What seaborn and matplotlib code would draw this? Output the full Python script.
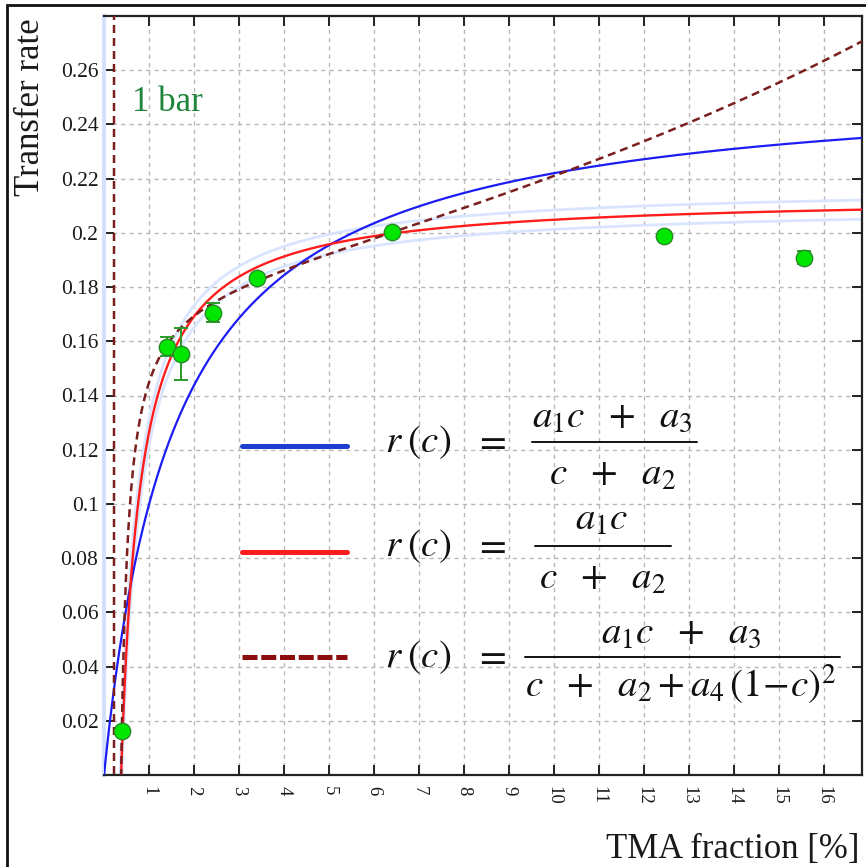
import numpy as np
import pandas as pd
import matplotlib
matplotlib.use("Agg")
import matplotlib.pyplot as plt
import seaborn as sns
from matplotlib.patches import Rectangle
from matplotlib.lines import Line2D

# ---------------- data ----------------
tma_fraction = [0.40, 1.40, 1.71, 2.42, 3.41, 6.41, 12.44, 15.57]
transfer_rate = [0.0162, 0.1580, 0.1554, 0.1705, 0.1834, 0.2004, 0.1989, 0.1908]
rate_error = [0.0, 0.0035, 0.0096, 0.0035, 0.0, 0.0, 0.0, 0.0024]

# fitted parameters of the three model curves
fit_blue = [0.257, 1.576, 0.0]            # a1, a2, a3 : (a1 c + a3)/(c + a2)
fit_red = [0.214, 0.43, 0.38]             # a1, a2, c-offset : a1 c'/(c' + a2)
band_upper = [0.2175, 0.42, 0.36]         # confidence band of the red fit
band_lower = [0.2105, 0.44, 0.40]
fit_dashed = [0.18514, -0.20698, -0.07035, -0.021404]  # a1, a2, a3, a4

x_ticks = list(range(1, 17))
x_tick_labels = [str(v) for v in x_ticks]
y_ticks = [0.02, 0.04, 0.06, 0.08, 0.10, 0.12, 0.14, 0.16, 0.18, 0.20, 0.22, 0.24, 0.26]
y_tick_labels = ["0.02", "0.04", "0.06", "0.08", "0.1", "0.12", "0.14", "0.16",
                 "0.18", "0.2", "0.22", "0.24", "0.26"]

# ---------------- style ----------------
sns.set_theme(style="ticks")
plt.rcParams["font.family"] = ["Liberation Serif", "DejaVu Serif"]
plt.rcParams["mathtext.fontset"] = "stix"

W, H = 866, 867
fig = plt.figure(figsize=(W / 100, H / 100), dpi=100)
fig.patch.set_facecolor("white")
ax = fig.add_axes([104 / W, 1 - 775 / H, 758 / W, 759 / H])
ax.set_facecolor("white")


def fx(px):
    return px / W


def fy(py):
    return 1 - py / H


# ---------------- curves ----------------
c = np.linspace(0.0, 16.9, 6000)
a1, a2, a3 = fit_blue
blue = (a1 * c + a3) / (c + a2)
A, B, c0 = fit_red
red = A * (c - c0) / (c - c0 + B)
A, B, c0 = band_upper
up = A * (c - c0) / (c - c0 + B)
A, B, c0 = band_lower
lo = A * (c - c0) / (c - c0 + B)
d1, d2, d3, d4 = fit_dashed
dashed = (d1 * c + d3) / (c + d2 + d4 * (1 - c) ** 2)

curves = pd.DataFrame({"c": c, "blue": blue, "red": red, "up": up, "lo": lo, "dashed": dashed})

band_col = "#d9e5ff"
sns.lineplot(data=curves, x="c", y="up", ax=ax, color=band_col, lw=2.0, estimator=None, sort=False, zorder=2)
sns.lineplot(data=curves, x="c", y="lo", ax=ax, color=band_col, lw=2.0, estimator=None, sort=False, zorder=2)
sns.lineplot(data=curves, x="c", y="blue", ax=ax, color="#1c1cf5", lw=1.6, estimator=None, sort=False, zorder=3)
sns.lineplot(data=curves, x="c", y="red", ax=ax, color="#ff1c1c", lw=1.7, estimator=None, sort=False, zorder=3)
sns.lineplot(data=curves, x="c", y="dashed", ax=ax, color="#7a1e1e", lw=1.8, estimator=None,
             sort=False, zorder=3)
ax.lines[-1].set_dashes((3.2, 2.0))

# ---------------- data points ----------------
pts = pd.DataFrame({"x": tma_fraction, "y": transfer_rate, "e": rate_error})
ax.errorbar(pts["x"], pts["y"], yerr=pts["e"], fmt="none", ecolor="#2a9a2a",
            elinewidth=1.4, capsize=5, capthick=1.4, zorder=4)
sns.scatterplot(data=pts, x="x", y="y", ax=ax, s=140, color="#00e600",
                edgecolor="#2a8a2a", linewidth=1.0, zorder=5)

# ---------------- axes ----------------
ax.set_xlim(0, 16.85)
ax.set_ylim(0, 0.28)
ax.set_xticks(x_ticks)
ax.set_xticklabels(x_tick_labels, rotation=-90, fontsize=13.5, va="top", ha="center")
ax.set_yticks(y_ticks)
ax.set_yticklabels(y_tick_labels, fontsize=15.5)
ax.tick_params(axis="both", direction="in", length=7, width=1.4, color="#222222",
               top=True, right=True, labelcolor="#1a1a1a")
ax.tick_params(axis="y", pad=4)
ax.tick_params(axis="x", pad=8)
ax.set_xlabel("")
ax.set_ylabel("")
ax.grid(True, color="#b8b8b8", linestyle=(0, (3, 3)), linewidth=1.0)
ax.set_axisbelow(True)
for s in ["top", "right", "bottom"]:
    ax.spines[s].set_color("#222222")
    ax.spines[s].set_linewidth(1.6)
ax.spines["left"].set_color("#d3e0ff")
ax.spines["left"].set_linewidth(3)

# ---------------- texts ----------------
fig.text(fx(31), fy(18), "Transfer rate", rotation=90, ha="center", va="top",
         fontsize=25, color="#1a1a1a")
fig.text(fx(860), fy(858), "TMA fraction [%]", ha="right", va="baseline",
         fontsize=25, color="#1a1a1a")
ax.text(0.62, 0.245, "1 bar", fontsize=25, color="#20853c", ha="left", va="baseline")

# ---------------- legend with formulas ----------------
fs = 28
legend_rows = [
    # sample y, colour, dashes, r(c) baseline, bar y, bar x0, bar x1, num, num base, den, den base, center
    (446, "#1c3fd0", None, 452, 442, 532, 697, r"$a_1c\ \ +\ \ a_3$", 427,
     r"$c\ \ +\ \ a_2$", 485, 612),
    (552, "#ff1c1c", None, 556, 546, 535, 671, r"$a_1c$", 530,
     r"$c\ \ +\ \ a_2$", 589, 602),
    (657, "#8b0e0e", (3.0, 0.75), 667, 657, 525, 840, r"$a_1c\ \ +\ \ a_3$", 643,
     r"$c\ \ +\ \ a_2+a_4\,(1\!-\!c)^2$", 697, 681),
]
for (sy, col, dash, rb, by, bx0, bx1, num, nb, den, db, cx) in legend_rows:
    ln = Line2D([fx(242), fx(347)], [fy(sy), fy(sy)], color=col, lw=3.6,
                transform=fig.transFigure)
    if dash is not None:
        ln.set_dashes(dash)
    fig.add_artist(ln)
    fig.text(fx(385), fy(rb), r"$r\;(c)$", fontsize=fs, ha="left", va="baseline", color="#111111")
    fig.text(fx(490), fy(by + 10), r"$=$", fontsize=fs, ha="center", va="baseline", color="#111111")
    fig.add_artist(Line2D([fx(bx0), fx(bx1)], [fy(by), fy(by)], color="#111111", lw=1.4,
                          transform=fig.transFigure))
    fig.text(fx(cx), fy(nb), num, fontsize=fs, ha="center", va="baseline", color="#111111")
    fig.text(fx(cx), fy(db), den, fontsize=fs, ha="center", va="baseline", color="#111111")

# outer frame of the picture
fig.add_artist(Rectangle((fx(7), -0.05), 1.2, fy(5) + 0.05, fill=False, lw=2,
                         edgecolor="#111111", transform=fig.transFigure))

fig.savefig("out.png", dpi=100, facecolor="white")
